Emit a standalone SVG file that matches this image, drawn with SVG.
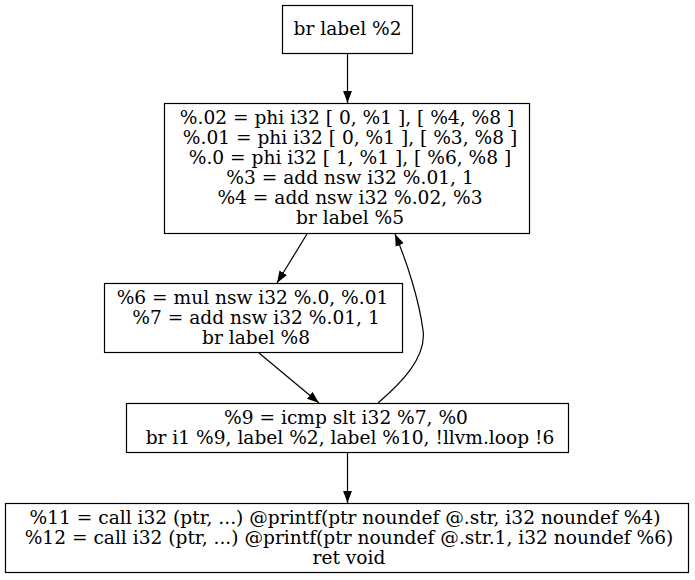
<svg xmlns="http://www.w3.org/2000/svg" width="695" height="580" viewBox="0 0 695 580">
<defs>
<style>
.node rect{fill:#ffffff;stroke:#000000;stroke-width:1.2}
.node text{font-family:"DejaVu Serif","Liberation Serif",serif;font-size:18.6px;fill:#000000;text-anchor:middle}
.edge path{fill:none;stroke:#000000;stroke-width:1.2}
</style>
<marker id="arrow" viewBox="0 0 12 10" refX="12" refY="5" markerWidth="12" markerHeight="10" markerUnits="userSpaceOnUse" orient="auto">
<path d="M0,0.6 L12,5 L0,9.4 Z" fill="#000000"/>
</marker>
</defs>
<rect width="695" height="580" fill="#ffffff"/>
<g id="node1" class="node">
<rect x="282.5" y="5.5" width="130" height="48"/>
<text x="347.5" y="35">br label %2</text>
</g>
<g id="node2" class="node">
<rect x="164.5" y="103.5" width="365" height="130"/>
<text x="347" y="124">%.02 = phi i32 [ 0, %1 ], [ %4, %8 ]</text>
<text x="350" y="144">%.01 = phi i32 [ 0, %1 ], [ %3, %8 ]</text>
<text x="350" y="164">%.0 = phi i32 [ 1, %1 ], [ %6, %8 ]</text>
<text x="350" y="184">%3 = add nsw i32 %.01, 1</text>
<text x="350" y="204">%4 = add nsw i32 %.02, %3</text>
<text x="350" y="224">br label %5</text>
</g>
<g id="node3" class="node">
<rect x="104.5" y="283.5" width="298" height="69"/>
<text x="252.5" y="304">%6 = mul nsw i32 %.0, %.01</text>
<text x="256" y="324">%7 = add nsw i32 %.01, 1</text>
<text x="256" y="344">br label %8</text>
</g>
<g id="node4" class="node">
<rect x="126.5" y="403.5" width="442" height="49"/>
<text x="346" y="424">%9 = icmp slt i32 %7, %0</text>
<text x="350" y="444">br i1 %9, label %2, label %10, !llvm.loop !6</text>
</g>
<g id="node5" class="node">
<rect x="5.5" y="503.5" width="683" height="69"/>
<text x="345" y="524">%11 = call i32 (ptr, ...) @printf(ptr noundef @.str, i32 noundef %4)</text>
<text x="349" y="544">%12 = call i32 (ptr, ...) @printf(ptr noundef @.str.1, i32 noundef %6)</text>
<text x="349" y="564">ret void</text>
</g>
<g id="edges" class="edge">
<path d="M347.5,54 L347.5,103" marker-end="url(#arrow)"/>
<path d="M307,234 L277,283" marker-end="url(#arrow)"/>
<path d="M259,353 L319,403" marker-end="url(#arrow)"/>
<path d="M378,403 C400,384 427,358 423,330 C419,300 407,262 395,234" marker-end="url(#arrow)"/>
<path d="M347.5,453 L347.5,503" marker-end="url(#arrow)"/>
</g>
</svg>
